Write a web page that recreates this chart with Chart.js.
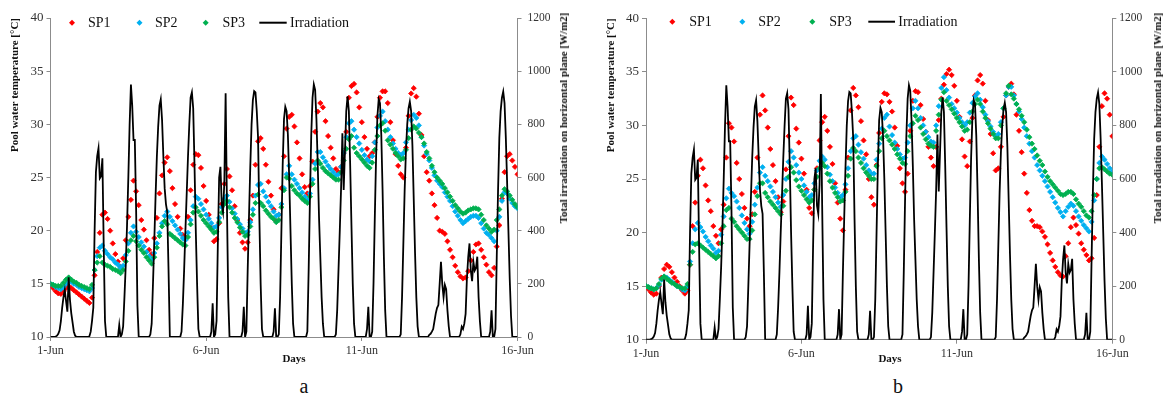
<!DOCTYPE HTML>
<html>
<head>
  <meta charset="utf-8">
  <script src="https://cdn.jsdelivr.net/npm/chart.js"></script>
  <style>
    body { margin: 0; background: #fff; }
    #wrap { position: relative; width: 1168px; height: 398px; font-family: 'Liberation Serif', 'Times New Roman', serif; color: #111; }
    .panel { position: absolute; top: 0; width: 584px; height: 365px; }
    .lbl { position: absolute; white-space: nowrap; transform: translate(-50%, -50%); }
    .axt { font-size: 11px; font-weight: bold; }
    .rot { transform: translate(-50%, -50%) rotate(-90deg); }
    .cap { font-size: 20px; }
  </style>
</head>
<body>
<div id="wrap">
  <div class="panel" style="left:0"><canvas id="chartA"></canvas></div>
  <div class="panel" style="left:584px"><canvas id="chartB"></canvas></div>

  <div class="lbl axt rot" style="left:563px;top:118px">Total irradiation on horizontal plane [W/m2]</div>
  <div class="lbl axt rot" style="left:1157px;top:118px">Total irradiation on horizontal plane [W/m2]</div>
  <div class="lbl axt" style="left:294px;top:358px">Days</div>
  <div class="lbl axt" style="left:890px;top:358px">Days</div>
  <div class="lbl cap" style="left:304px;top:386px">a</div>
  <div class="lbl cap" style="left:898px;top:386px">b</div>
</div>

<script>
  // x axis: hours since 1 June 00:00
  var dayTicks = [0, 120, 240, 360];
  var dayLabels = ['1-Jun', '6-Jun', '11-Jun', '16-Jun'];
  var seriesNames = ['SP1', 'SP2', 'SP3', 'Irradiation'];
  var seriesColors = ['#ff0000', '#00b0f0', '#00b050', '#000000'];

  // hourly irradiation W/m2 (same for both cases), one row per day
  var irradiation = [
    0,0,0,0,2,5,12,25,60,110,150,177,135,95,225,140,90,55,20,5,0,0,0,0,
    0,0,0,0,0,0,3,20,60,110,400,620,680,710,597,605,672,350,60,0,0,0,0,0,
    0,0,0,0,0,45,0,10,40,150,270,420,600,800,950,870,741,741,480,120,0,0,0,0,
    0,0,0,0,0,10,50,200,360,530,680,791,870,894,816,680,560,500,470,250,0,0,0,0,
    0,0,0,0,0,20,120,250,400,540,680,800,900,920,860,650,400,200,30,0,0,0,0,0,
    0,0,0,0,20,127,0,10,60,350,600,640,500,470,580,917,500,150,0,0,0,0,0,0,
    0,0,0,0,20,114,0,20,250,450,640,800,891,925,920,850,750,450,200,30,0,0,0,0,
    0,0,0,0,20,108,0,0,10,150,400,650,820,866,850,760,600,400,200,50,0,0,0,0,
    0,0,0,0,0,0,20,250,520,760,900,950,930,820,650,450,300,150,50,0,0,0,0,0,
    0,0,0,0,10,100,250,400,560,766,553,700,850,905,850,650,420,200,50,0,0,0,0,0,
    0,0,0,0,30,114,0,0,20,200,450,680,830,895,880,760,550,300,100,0,0,0,0,0,
    0,0,0,0,0,0,10,150,350,550,700,800,860,885,850,720,520,320,150,40,0,0,0,0,
    0,0,0,0,8,12,20,30,60,89,110,120,200,283,200,150,196,180,100,40,0,0,0,0,
    0,0,0,0,10,39,30,50,87,220,300,352,250,210,283,250,260,302,150,60,0,0,0,0,
    0,0,0,20,100,0,0,30,300,550,750,850,900,923,880,750,580,400,220,80,0,0,0,0,
    0
  ];

  // pool water temperature, every 2 hours, case a
  var aSP1 = [
    14.9,14.6,14.3,14.1,14.05,14.3,14.6,14.8,14.6,14.4,14.2,14.0,
    13.8,13.6,13.4,13.2,13.7,15.8,18.0,19.8,21.5,21.7,21.1,20.0,
    18.8,17.8,17.1,16.6,17.4,19.1,21.3,22.9,24.7,23.7,22.4,21.0,
    20.1,19.1,18.2,17.8,19.3,21.2,23.5,25.2,26.4,26.9,25.6,24.0,
    22.5,21.3,20.2,19.6,19.4,21.3,23.8,26.2,27.2,27.1,25.9,24.2,
    22.8,21.5,20.3,19.0,19.2,20.7,22.5,24.4,25.8,25.1,23.8,22.3,
    21.0,19.8,18.9,18.3,18.9,21.0,23.3,26.2,28.4,28.7,27.7,26.2,
    24.6,23.3,22.0,20.9,21.5,24.0,27.0,29.6,30.7,30.9,29.8,28.3,
    26.8,25.3,24.1,23.5,24.2,26.5,29.3,31.2,32.0,31.6,30.3,28.9,
    27.8,26.8,25.8,25.5,26.0,27.3,29.3,32.5,33.6,33.8,33.0,31.6,
    30.2,28.8,27.7,27.0,27.3,28.3,30.7,32.5,33.1,33.1,32.0,30.2,
    28.5,27.2,26.1,25.3,25.0,27.8,30.8,32.9,33.4,32.6,31.0,29.0,
    27.0,25.5,24.7,23.5,22.4,21.2,20.0,19.9,19.7,19.0,18.2,17.5,
    16.7,16.1,15.7,15.5,15.6,16.2,17.2,18.0,18.7,18.8,18.2,17.5,
    16.8,16.1,15.8,16.5,18.5,20.5,23.0,25.5,27.0,27.2,26.6,26.0,
    25.3
  ];
  var aSP2 = [
    15.0,14.9,14.7,14.6,14.5,14.7,15.0,15.3,15.2,15.0,14.9,14.7,
    14.6,14.5,14.4,14.3,14.6,16.3,17.6,18.4,18.6,18.1,17.8,17.5,
    17.3,17.0,16.8,16.5,16.7,17.7,18.8,19.8,20.4,19.9,19.4,18.9,
    18.5,18.0,17.6,17.3,17.9,18.8,19.8,20.7,21.4,21.8,21.3,20.9,
    20.5,20.1,19.7,19.3,19.1,19.8,21.0,22.3,23.2,23.0,22.5,22.0,
    21.5,21.1,20.7,20.3,20.4,21.2,22.2,23.0,23.3,22.7,22.1,21.6,
    21.1,20.6,20.2,19.8,19.9,20.8,22.0,23.3,24.3,24.4,23.7,23.2,
    22.7,22.3,21.8,21.4,21.5,22.5,24.0,25.3,26.1,25.3,24.8,24.4,
    24.0,23.6,23.2,22.9,23.5,24.8,26.3,27.4,27.4,26.9,26.5,26.1,
    25.8,25.5,25.2,25.3,26.0,27.3,28.8,30.1,30.3,29.5,28.8,28.2,
    27.6,27.1,26.7,26.5,27.0,28.3,29.7,30.8,31.2,30.3,29.5,28.8,
    28.2,27.7,27.3,27.1,27.3,28.3,29.5,30.4,30.9,30.6,29.9,28.8,
    28.0,27.2,26.6,25.9,25.2,24.7,24.4,24.1,23.6,23.2,22.8,22.3,
    21.8,21.4,21.0,20.7,20.9,21.1,21.3,21.4,21.4,21.2,20.7,20.2,
    19.8,19.6,19.3,19.0,20.0,21.3,22.8,23.6,23.5,23.0,22.6,22.3,
    22.1
  ];
  var aSP3 = [
    15.0,14.9,14.8,14.8,14.8,15.1,15.4,15.6,15.4,15.2,15.1,14.9,
    14.8,14.7,14.6,14.5,14.9,16.3,17.0,17.6,17.0,16.8,16.7,16.6,
    16.4,16.3,16.2,16.0,16.3,17.1,18.1,19.1,19.5,19.0,18.6,18.2,
    17.9,17.5,17.2,16.9,17.5,18.4,19.5,20.4,20.9,20.6,19.7,19.5,
    19.3,19.1,18.9,18.7,18.6,19.4,20.6,21.7,22.2,21.8,21.4,21.0,
    20.7,20.4,20.1,19.8,19.9,20.8,21.7,22.5,22.8,22.2,21.7,21.2,
    20.8,20.3,19.9,19.5,19.6,20.4,21.5,22.6,23.4,22.6,22.3,21.9,
    21.6,21.3,21.1,20.8,21.0,22.2,23.8,25.0,24.9,24.2,23.8,23.5,
    23.3,23.0,22.8,22.6,23.2,24.4,25.8,26.6,26.3,25.9,25.6,25.4,
    25.2,25.0,24.8,24.8,25.5,26.6,27.7,28.6,28.9,27.8,27.3,27.0,
    26.7,26.4,26.1,25.9,26.4,27.6,28.9,29.9,30.1,29.4,28.5,28.1,
    27.7,27.3,27.0,26.7,26.8,27.6,28.7,29.5,29.8,29.6,29.2,28.8,
    28.2,27.4,26.8,26.1,25.5,25.0,24.7,24.4,24.0,23.6,23.2,22.8,
    22.4,22.1,21.8,21.6,21.7,21.9,22.0,22.1,22.1,22.0,21.5,21.0,
    20.5,20.2,19.9,20.1,21.0,22.0,23.3,23.9,23.7,23.3,22.9,22.5,
    22.2
  ];

  // pool water temperature, every 2 hours, case b
  var bSP1 = [
    15.0,14.7,14.4,14.2,14.3,15.0,15.8,16.6,17.0,16.8,16.3,15.8,
    15.4,15.0,14.6,14.3,14.6,17.0,20.6,22.8,25.3,26.8,26.0,24.4,
    23.0,22.0,20.6,19.7,19.0,20.3,22.6,27.0,30.2,29.8,28.5,26.5,
    25.0,23.6,22.3,21.3,20.6,21.7,23.8,27.0,31.0,32.8,31.4,29.8,
    27.8,26.3,24.8,23.3,21.9,22.9,25.9,29.0,32.6,31.9,29.7,28.4,
    26.9,25.5,24.0,22.3,21.8,24.0,26.0,28.6,30.3,30.8,29.5,28.0,
    26.4,24.6,22.8,21.3,20.2,24.0,27.0,31.4,33.5,32.8,31.7,30.4,
    28.6,27.3,25.0,23.3,22.6,26.3,29.3,32.2,33.0,32.9,32.2,31.3,
    29.8,28.1,26.0,24.6,23.8,25.5,29.5,32.3,33.2,33.1,31.9,30.6,
    29.4,28.0,27.0,26.2,28.0,30.5,32.5,33.8,34.8,35.2,34.7,33.7,
    32.3,30.8,28.7,27.1,26.2,28.5,30.7,32.8,34.2,34.7,33.9,32.3,
    30.5,29.2,27.4,25.8,26.0,28.0,30.8,32.8,33.6,33.9,32.9,31.0,
    29.5,27.5,25.5,23.7,22.1,21.1,20.6,20.6,20.5,20.1,19.6,18.9,
    18.1,17.4,16.8,16.3,16.0,15.9,17.8,19.0,20.5,21.4,20.7,19.9,
    19.0,18.4,17.9,17.4,17.6,19.5,23.5,28.0,31.8,33.0,32.5,31.0,
    29.0
  ];
  var bSP2 = [
    15.0,14.9,14.8,14.7,14.8,15.1,15.6,15.9,15.8,15.6,15.4,15.2,
    15.0,14.9,14.7,14.6,15.0,17.3,19.0,20.3,20.9,20.5,20.1,19.6,
    19.2,18.8,18.5,18.1,18.3,19.8,21.5,23.2,24.1,23.7,23.4,22.9,
    22.3,21.6,20.9,20.3,19.9,21.0,22.6,24.2,25.6,26.1,25.3,24.8,
    24.3,23.8,23.3,22.8,22.4,23.5,25.0,26.6,27.6,27.0,26.3,25.6,
    25.0,24.4,23.8,23.3,23.5,24.6,25.8,26.7,27.1,26.8,26.1,25.4,
    24.8,24.2,23.7,23.3,23.5,24.5,26.0,27.6,28.8,29.0,28.2,27.5,
    26.9,26.3,25.8,25.5,25.5,26.8,28.3,29.7,30.7,31.0,29.9,29.1,
    28.4,27.8,27.3,26.9,27.0,28.4,30.0,31.6,32.3,31.6,30.7,30.0,
    29.4,28.9,28.5,28.4,30.0,31.8,33.5,34.5,33.3,32.6,32.0,31.6,
    31.2,30.7,30.3,30.0,30.3,31.2,32.1,32.7,33.0,32.4,31.7,31.0,
    30.4,29.9,29.4,29.0,29.2,30.3,31.6,32.8,33.6,33.6,32.8,32.0,
    31.3,30.6,29.8,29.0,28.3,27.6,27.0,26.3,25.8,25.3,24.8,24.3,
    23.8,23.3,22.8,22.3,21.9,21.5,22.0,22.4,22.7,22.5,22.0,21.5,
    21.1,20.7,20.4,20.1,21.0,23.0,25.0,26.5,27.1,26.8,26.4,26.0,
    25.7
  ];
  var bSP3 = [
    15.0,14.9,14.8,14.7,14.8,15.2,15.7,15.9,15.7,15.5,15.3,15.2,
    15.0,14.9,14.8,14.8,15.2,17.0,18.2,18.9,19.0,18.8,18.6,18.4,
    18.2,18.0,17.8,17.6,17.8,19.0,20.6,22.1,22.3,21.3,21.0,20.6,
    20.3,20.0,19.7,19.4,19.4,20.2,21.7,23.4,24.6,24.6,23.7,23.3,
    22.9,22.6,22.3,22.0,21.7,22.5,23.9,25.2,26.1,25.6,24.9,24.3,
    23.9,23.5,23.1,22.8,23.0,24.0,25.2,26.0,26.5,26.2,25.5,24.8,
    24.2,23.7,23.3,22.9,23.0,23.8,25.3,26.9,27.9,27.6,27.0,26.5,
    26.0,25.6,25.3,25.0,25.0,26.2,27.6,28.8,29.5,29.0,28.6,28.2,
    27.8,27.3,26.9,26.5,26.4,27.6,29.0,30.2,30.9,30.5,29.8,29.2,
    28.7,28.3,28.1,28.0,29.5,31.0,32.4,33.1,32.3,31.9,31.5,31.1,
    30.7,30.3,29.9,29.5,29.6,30.3,31.3,32.0,32.4,32.0,31.3,30.7,
    30.2,29.7,29.2,28.8,28.8,30.0,31.6,33.0,33.7,32.9,32.5,32.0,
    31.5,30.9,30.3,29.6,28.9,28.3,27.8,27.2,26.7,26.3,25.7,25.2,
    24.8,24.5,24.2,23.9,23.6,23.5,23.6,23.8,23.8,23.6,23.1,22.7,
    22.4,22.0,21.6,21.4,22.0,23.5,25.0,26.0,26.1,25.9,25.7,25.5,
    25.4
  ];

  Chart.defaults.font.family = "'Liberation Serif', 'Times New Roman', serif";
  Chart.defaults.color = '#222';
  var axisColor = '#8c8c8c';

  // turn a value list into {x: hour, y: value} points
  function toPoints(values, stepHours) {
    return values.map(function (v, i) { return { x: i * stepHours, y: v }; });
  }

  // legend drawn inside the plot, like the original
  var seriesLegend = {
    id: 'seriesLegend',
    afterDraw: function (chart, args, opts) {
      var ctx = chart.ctx;
      ctx.save();
      ctx.font = '14px ' + Chart.defaults.font.family;
      ctx.textBaseline = 'middle';
      opts.items.forEach(function (it, i) {
        var c = seriesColors[i];
        if (it.line) {
          ctx.strokeStyle = c;
          ctx.lineWidth = 2;
          ctx.beginPath();
          ctx.moveTo(it.line[0], opts.y);
          ctx.lineTo(it.line[1], opts.y);
          ctx.stroke();
        } else {
          ctx.fillStyle = c;
          ctx.beginPath();
          ctx.moveTo(it.mark - 3, opts.y);
          ctx.lineTo(it.mark, opts.y - 3);
          ctx.lineTo(it.mark + 3, opts.y);
          ctx.lineTo(it.mark, opts.y + 3);
          ctx.closePath();
          ctx.fill();
        }
        ctx.fillStyle = '#111';
        ctx.fillText(seriesNames[i], it.text, opts.y + 1);
      });
      ctx.restore();
    }
  };

  function makeChart(id, temps, cfg) {
    var datasets = temps.map(function (vals, i) {
      return {
        label: seriesNames[i],
        data: toPoints(vals, 2),
        yAxisID: 'y',
        pointStyle: 'rectRot',
        pointRadius: 2.6,
        pointBorderWidth: 0.8,
        backgroundColor: seriesColors[i],
        borderColor: seriesColors[i],
        order: 3 - i
      };
    });
    datasets.push({
      label: seriesNames[3],
      data: toPoints(irradiation, 1),
      yAxisID: 'y2',
      showLine: true,
      pointRadius: 0,
      borderColor: '#000',
      borderWidth: 1.8,
      tension: 0,
      order: 0
    });

    return new Chart(document.getElementById(id), {
      type: 'scatter',
      data: { datasets: datasets },
      options: {
        responsive: true,
        maintainAspectRatio: false,
        animation: false,
        events: [],
        layout: { padding: { top: cfg.top, left: 0, right: 0, bottom: 0 } },
        plugins: {
          legend: { display: false },
          tooltip: { enabled: false },
          seriesLegend: { y: cfg.legendY, items: cfg.legend }
        },
        scales: {
          x: {
            type: 'linear',
            min: 0,
            max: 360,
            afterBuildTicks: function (s) { s.ticks = dayTicks.map(function (v) { return { value: v }; }); },
            afterFit: function (s) { s.height = cfg.xh; },
            ticks: {
              callback: function (v) { return dayLabels[dayTicks.indexOf(v)]; },
              maxRotation: 0, autoSkip: false, padding: 3,
              font: { size: 12 }, color: '#333'
            },
            grid: { display: true, drawOnChartArea: false, tickLength: 4, color: axisColor },
            border: { color: axisColor }
          },
          y: {
            position: 'left',
            min: 10,
            max: 40,
            afterFit: function (s) { s.width = cfg.lw; },
            ticks: { stepSize: 5, padding: 3, font: { size: 13 }, color: '#333' },
            grid: { display: true, drawOnChartArea: false, tickLength: 4, color: axisColor },
            border: { color: axisColor },
            title: {
              display: true,
              text: 'Pool water temperature [°C]',
              align: 'end',
              font: { size: 11, weight: 'bold' },
              color: '#111',
              padding: { top: cfg.titlePad, bottom: 0 }
            }
          },
          y2: {
            position: 'right',
            min: 0,
            max: 1200,
            afterFit: function (s) { s.width = cfg.rw; },
            ticks: {
              stepSize: 200, padding: cfg.rpad, font: { size: 11.5 }, color: '#333',
              callback: function (v) { return String(v); }
            },
            grid: { display: true, drawOnChartArea: false, tickLength: 4, color: axisColor },
            border: { color: axisColor }
          }
        }
      },
      plugins: [seriesLegend]
    });
  }

  makeChart('chartA', [aSP1, aSP2, aSP3], {
    top: 18, xh: 28, lw: 50.5, rw: 66.5, rpad: 6, titlePad: 8.4,
    legendY: 22.7,
    legend: [{ mark: 72, text: 88 }, { mark: 139.5, text: 155 }, { mark: 205.7, text: 222.5 }, { line: [259.3, 286.7], text: 290 }]
  });

  makeChart('chartB', [bSP1, bSP2, bSP3], {
    top: 18.3, xh: 25.3, lw: 62, rw: 55.7, rpad: 3, titlePad: 21,
    legendY: 21.7,
    legend: [{ mark: 88.3, text: 105.3 }, { mark: 158.3, text: 174.3 }, { mark: 228.3, text: 245.3 }, { line: [284.3, 311], text: 314.3 }]
  });
</script>
</body>
</html>
